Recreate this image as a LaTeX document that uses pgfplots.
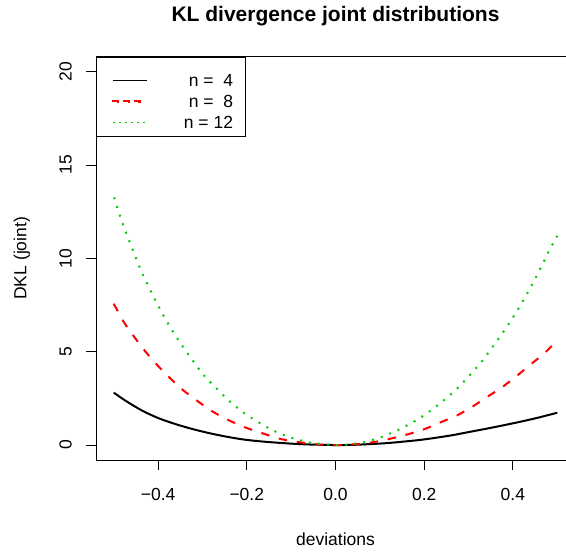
\documentclass[border=0pt]{standalone}
\usepackage{fontspec}
\setmainfont{Liberation Sans}
\usepackage{pgfplots}
\pgfplotsset{compat=1.18}
\definecolor{rgreen}{HTML}{00CD00}
\definecolor{rred}{HTML}{FF0000}
\newcommand{\lab}{\fontsize{17.5}{21}\selectfont}
\pgfplotsset{
  legsolid/.style={legend image code/.code={\path (-3.3pt,14.3pt); \draw[##1, line width=1pt, solid] (0pt,0pt) -- (34pt,0pt);}},
  legdash/.style={legend image code/.code={\path (-3.3pt,0pt);
    \fill[rred] (0pt,-0.65pt) rectangle (4.7pt,0.65pt);
    \fill[rred] (10.7pt,-0.65pt) rectangle (15.4pt,0.65pt);
    \fill[rred] (21.4pt,-0.65pt) rectangle (26.1pt,0.65pt);}},
  legdot/.style={legend image code/.code={\path (-3.3pt,0pt); \draw[##1, line width=1.1pt, dash pattern=on 1.2pt off 4.8pt] (0pt,0pt) -- (34pt,0pt);}},
}
\begin{document}
\begin{tikzpicture}[x=1pt,y=1pt]
\path[use as bounding box] (0,0) rectangle (566,552);
\begin{axis}[
  at={(96pt,92pt)}, anchor=south west,
  scale only axis, width=479pt, height=403.3pt,
  xmin=-0.54, xmax=0.54, ymin=-0.8, ymax=20.8,
  axis line style={line width=0.9pt},
  tick align=outside, major tick length=10pt,
  tick style={line width=0.9pt, black},
  xtick pos=bottom, ytick pos=left,
  xtick={-0.4,-0.2,0,0.2,0.4},
  xticklabels={−0.4,−0.2,0.0,0.2,0.4},
  ytick={0,5,10,15,20},
  yticklabels={0,5,10,15,20},
  ticklabel style={font=\lab},
  xticklabel style={anchor=base},
  xticklabel shift=31pt,
  yticklabel style={anchor=base, rotate=90},
  yticklabel shift=14.3pt,
  title={KL divergence joint distributions},
  title style={at={(axis description cs:0.5,1.0725)}, anchor=base, font=\bfseries\fontsize{21}{25}\selectfont},
  xlabel={deviations},
  every axis x label/.style={at={(axis description cs:0.5,-0.2132)}, anchor=base, font=\lab},
  ylabel={DKL (joint)},
  every axis y label/.style={at={(axis description cs:-0.1451,0.5)}, anchor=base, rotate=90, font=\lab},
  legend style={at={(axis description cs:0,1)}, anchor=north west, draw=black, line width=0.9pt,
    inner xsep=12.7pt, inner ysep=7.7pt, row sep=8.7pt, column sep=35.9pt, font=\lab,
    nodes={inner sep=0pt, text height=12.5pt, text depth=0pt}},
  legend cell align=right,
]
\addplot[black, line width=2pt, smooth, legsolid]
  table {
x y
-0.500 2.81
-0.482 2.51
-0.465 2.25
-0.434 1.82
-0.397 1.42
-0.359 1.11
-0.321 0.85
-0.283 0.63
-0.246 0.45
-0.208 0.30
-0.170 0.20
-0.133 0.13
-0.095 0.07
-0.058 0.03
0.000 0.00
0.038 0.01
0.076 0.05
0.114 0.10
0.151 0.18
0.189 0.27
0.226 0.39
0.264 0.53
0.301 0.70
0.339 0.87
0.377 1.05
0.415 1.24
0.452 1.44
0.500 1.73
};
\addlegendentry{n = \ 4}
\addplot[rred, line width=2pt, smooth, dash pattern=on 8.5pt off 9.8pt, legdash]
  table {
x y
-0.500 7.57
-0.477 6.58
-0.453 5.77
-0.428 4.99
-0.401 4.26
-0.372 3.56
-0.342 2.91
-0.309 2.32
-0.276 1.78
-0.240 1.32
-0.202 0.93
-0.162 0.61
-0.123 0.32
-0.083 0.16
-0.044 0.04
0.000 0.00
0.037 0.03
0.081 0.14
0.120 0.32
0.159 0.55
0.199 0.84
0.235 1.20
0.274 1.59
0.307 2.03
0.340 2.55
0.374 3.07
0.408 3.69
0.438 4.28
0.472 4.94
0.500 5.61
};
\addlegendentry{n = \ 8}
\addplot[rgreen, line width=2pt, smooth, dash pattern=on 2pt off 7.1pt, legdot]
  table {
x y
-0.499 13.27
-0.487 12.35
-0.473 11.42
-0.458 10.51
-0.443 9.60
-0.426 8.71
-0.408 7.84
-0.389 6.99
-0.368 6.13
-0.346 5.33
-0.322 4.53
-0.297 3.74
-0.268 3.03
-0.239 2.35
-0.207 1.73
-0.172 1.20
-0.136 0.73
-0.098 0.38
-0.059 0.14
-0.038 0.07
0.000 0.00
0.025 0.02
0.065 0.16
0.104 0.43
0.142 0.82
0.179 1.28
0.212 1.80
0.245 2.41
0.276 3.07
0.304 3.78
0.331 4.51
0.355 5.29
0.379 6.08
0.402 6.90
0.423 7.73
0.443 8.59
0.462 9.46
0.480 10.33
0.500 11.21
};
\addlegendentry{n = 12}
\end{axis}
\end{tikzpicture}
\end{document}
